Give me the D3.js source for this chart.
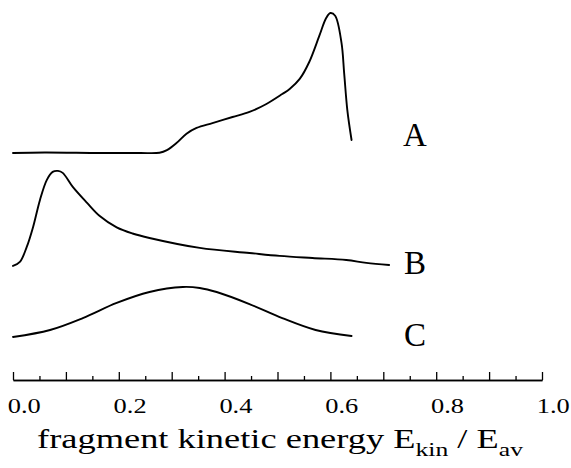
<!DOCTYPE html>
<html>
<head>
<meta charset="utf-8">
<script src="https://cdn.jsdelivr.net/npm/d3@7"></script>
<style>
  html, body { margin: 0; padding: 0; background: #fff; }
  svg { display: block; }
  svg text { font-family: "Liberation Serif", "Times New Roman", Times, serif; fill: #000; }
</style>
</head>
<body>
<svg id="chart" width="571" height="468"></svg>
<script>
// Fragment kinetic energy distributions (E_kin / E_av), three stacked curves.
const energyA = [0.000, 0.060, 0.164, 0.240, 0.277, 0.291, 0.309, 0.328, 0.347, 0.377, 0.415, 0.447, 0.479, 0.509, 0.523, 0.542, 0.560, 0.579, 0.592, 0.600, 0.609, 0.621, 0.626, 0.632, 0.640];
const intensityA = [0.000, 0.004, 0.000, 0.000, 0.002, 0.021, 0.071, 0.138, 0.179, 0.214, 0.257, 0.293, 0.350, 0.421, 0.457, 0.529, 0.650, 0.836, 0.964, 1.000, 0.980, 0.786, 0.571, 0.307, 0.093];

const energyB = [0.000, 0.013, 0.026, 0.038, 0.051, 0.064, 0.075, 0.085, 0.094, 0.113, 0.140, 0.164, 0.196, 0.226, 0.258, 0.353, 0.447, 0.504, 0.566, 0.630, 0.668, 0.711];
const intensityB = [0.014, 0.043, 0.150, 0.293, 0.486, 0.629, 0.686, 0.693, 0.679, 0.579, 0.465, 0.371, 0.290, 0.246, 0.214, 0.143, 0.107, 0.086, 0.071, 0.057, 0.036, 0.021];

const energyC = [0.000, 0.070, 0.132, 0.196, 0.258, 0.321, 0.353, 0.385, 0.447, 0.509, 0.572, 0.640];
const intensityC = [0.036, 0.086, 0.171, 0.279, 0.357, 0.393, 0.386, 0.357, 0.271, 0.171, 0.086, 0.043];

// Vertical offsets that stack the curves (same intensity units).
const seriesNames = ["A", "B", "C"];
const seriesOffsets = [0, -0.821, -1.35];

const majorTicks = [0.0, 0.1, 0.2, 0.3, 0.4, 0.5, 0.6, 0.7, 0.8, 0.9, 1.0];
const minorTicks = [0.05, 0.15, 0.25, 0.35, 0.45, 0.55, 0.65, 0.75, 0.85, 0.95];
const tickLabels = ["0.0", "", "0.2", "", "0.4", "", "0.6", "", "0.8", "", "1.0"];

const svg = d3.select("#chart");

const x = d3.scaleLinear().domain([0, 1]).range([13, 542]);
const y = d3.scaleLinear().domain([0, 1]).range([153, 13]);

const series = [
  { name: seriesNames[0], e: energyA, v: intensityA },
  { name: seriesNames[1], e: energyB, v: intensityB },
  { name: seriesNames[2], e: energyC, v: intensityC }
].map((s, i) => ({ ...s, offset: seriesOffsets[i], pts: s.e.map((e, j) => [e, s.v[j]]) }));

const line = d3.line()
  .x(d => x(d[0]))
  .y(d => y(d[1]))
  .curve(d3.curveCatmullRom.alpha(0.5));

svg.append("g").selectAll("path")
  .data(series)
  .join("path")
  .attr("fill", "none")
  .attr("stroke", "#000")
  .attr("stroke-width", 1.9)
  .attr("stroke-linejoin", "round")
  .attr("stroke-linecap", "round")
  .attr("d", s => line(s.pts.map(p => [p[0], p[1] + s.offset])));

// Curve labels
const labelX = 415;
const labelBaselines = [146, 274, 346];
svg.append("g").selectAll("text")
  .data(series)
  .join("text")
  .attr("x", labelX)
  .attr("y", (s, i) => labelBaselines[i])
  .attr("text-anchor", "middle")
  .attr("font-size", 33)
  .text(s => s.name);

// Energy axis with ticks pointing up
const axisY = 380;
const majorAxis = d3.axisBottom(x)
  .tickValues(majorTicks)
  .tickSizeInner(-8)
  .tickSizeOuter(0)
  .tickPadding(17)
  .tickFormat((d, i) => tickLabels[i]);

const minorAxis = d3.axisBottom(x)
  .tickValues(minorTicks)
  .tickSizeInner(-4)
  .tickSizeOuter(0)
  .tickFormat("");

const gMinor = svg.append("g").attr("transform", `translate(0,${axisY})`).call(minorAxis);
const gMajor = svg.append("g").attr("transform", `translate(0,${axisY})`).call(majorAxis);

[gMinor, gMajor].forEach(g => {
  g.attr("font-family", null);
  g.selectAll("path.domain").attr("stroke", "#000").attr("stroke-width", 1.5);
  g.selectAll(".tick line").attr("stroke", "#000").attr("stroke-width", 1.3);
});
gMajor.selectAll(".tick text")
  .attr("font-size", 22)
  .attr("transform", "scale(1.2,1)")
  .attr("dx", 9)
  .attr("fill", "#000");

// Axis title with subscripts, stretched to the axis width
const titleCx = 280, titleWidth = 486;
const title = svg.append("text")
  .attr("x", 0)
  .attr("y", 0)
  .attr("text-anchor", "middle")
  .attr("font-size", 27);
title.append("tspan").text("fragment kinetic energy E");
title.append("tspan").attr("dy", 8).attr("font-size", 19).text("kin");
title.append("tspan").attr("dy", -8).text(" / E");
title.append("tspan").attr("dy", 8).attr("font-size", 19).text("av");
const bw = title.node().getComputedTextLength();
title.attr("transform", `translate(${titleCx},448) scale(${titleWidth / bw},1)`);
</script>
</body>
</html>
